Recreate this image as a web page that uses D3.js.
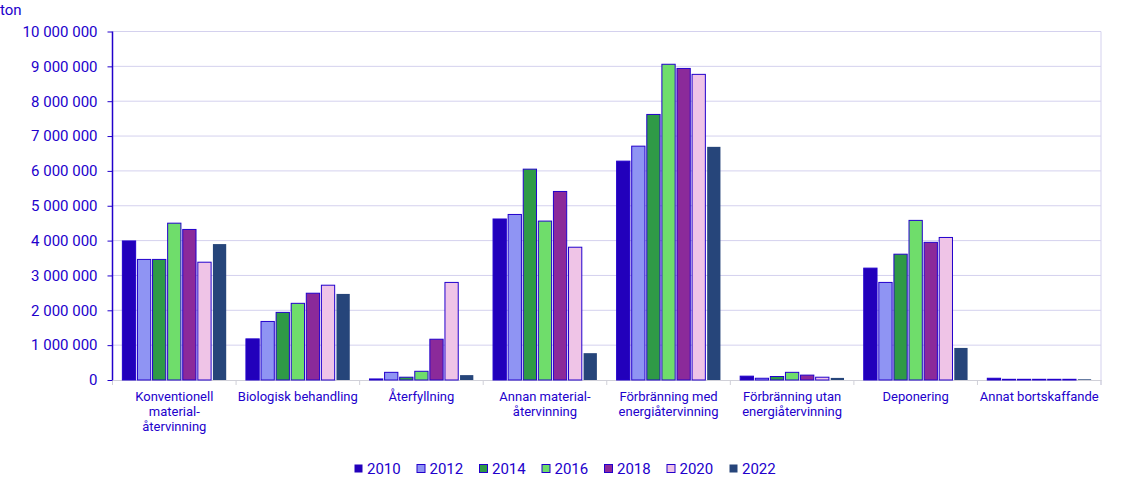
<!DOCTYPE html>
<html><head><meta charset="utf-8">
<script src="https://cdn.jsdelivr.net/npm/d3@7"></script>
<style>body{margin:0;background:#fff;font-family:Roboto,"Noto Sans",sans-serif;}</style>
</head><body><svg id="c" width="1126" height="491"></svg>
<script>
const categories = [
  ["Konventionell","material-","återvinning"],
  ["Biologisk behandling"],
  ["Återfyllning"],
  ["Annan material-","återvinning"],
  ["Förbränning med","energiåtervinning"],
  ["Förbränning utan","energiåtervinning"],
  ["Deponering"],
  ["Annat bortskaffande"]
];
const years = ["2010","2012","2014","2016","2018","2020","2022"];
const v2010 = [3990000,1180000,30000,4620000,6280000,110000,3210000,50000];
const v2012 = [3460000,1680000,220000,4750000,6710000,50000,2800000,20000];
const v2014 = [3460000,1940000,80000,6050000,7620000,100000,3610000,20000];
const v2016 = [4500000,2200000,250000,4560000,9060000,220000,4580000,20000];
const v2018 = [4320000,2490000,1170000,5410000,8940000,140000,3950000,20000];
const v2020 = [3380000,2720000,2800000,3810000,8770000,80000,4090000,20000];
const v2022 = [3900000,2470000,140000,770000,6690000,60000,920000,20000];
const series = [v2010,v2012,v2014,v2016,v2018,v2020,v2022];
const yTicks = [0,1000000,2000000,3000000,4000000,5000000,6000000,7000000,8000000,9000000,10000000];
const colors = ["#2200bb","#8f94f3","#2f9a46","#6fdd6b","#8b2a9a","#efc4e7","#26457a"];
const stroke = "#2200cc";
const textCol = "#2200cc";

const svg = d3.select("#c");
const L = 112.5, R = 1101, T = 31.5, B = 380;
const x = d3.scaleBand().domain(d3.range(categories.length)).range([L,R]).paddingInner(0).paddingOuter(0);
const y = d3.scaleLinear().domain([0,10000000]).range([B,T]);
const fmt = d => d3.format(",")(d).replace(/,/g," ");

// gridlines
svg.append("g").selectAll("line").data(yTicks.slice(1)).join("line")
  .attr("x1",L).attr("x2",R).attr("y1",d=>y(d)).attr("y2",d=>y(d))
  .attr("stroke","#d4d1ee").attr("stroke-width",1);
svg.append("line").attr("x1",R).attr("x2",R).attr("y1",T).attr("y2",B+5).attr("stroke","#d4d1ee");

// x axis
const xa = svg.append("g").attr("transform",`translate(0,${B})`)
  .call(d3.axisBottom(x).tickSize(0).tickFormat(""));
xa.select(".domain").attr("stroke","#d0d0d8");
svg.append("g").selectAll("line").data(d3.range(categories.length+1)).join("line")
  .attr("x1",i=>L+i*x.bandwidth()).attr("x2",i=>L+i*x.bandwidth())
  .attr("y1",B).attr("y2",B+5).attr("stroke","#d0d0d8");

// bars
const gw = x.bandwidth()*0.855, step = gw/years.length, bw = step*0.88;
series.forEach((s,si)=>{
  svg.append("g").selectAll("rect").data(s).join("rect")
    .attr("x",(d,i)=>x(i)+(x.bandwidth()-gw)/2+si*step+(step-bw)/2)
    .attr("width",bw)
    .attr("y",d=>y(d)).attr("height",d=>B-y(d))
    .attr("fill",colors[si])
    .attr("stroke",si===6?"none":stroke).attr("stroke-width",1);
});

// y axis
const ya = svg.append("g").attr("transform",`translate(${L},0)`)
  .call(d3.axisLeft(y).tickValues(yTicks).tickFormat(fmt).tickSize(5).tickPadding(10));
ya.select(".domain").attr("stroke",stroke).attr("stroke-width",1.5).attr("d",`M0,${T}V${B}`);
ya.selectAll(".tick line").attr("stroke",stroke);
ya.selectAll(".tick text").attr("fill",textCol).style("font-size","15px").style("font-family","Roboto");

// category labels
categories.forEach((lines,i)=>{
  const t = svg.append("text").attr("x",x(i)+x.bandwidth()/2).attr("y",401)
    .attr("text-anchor","middle").attr("fill",textCol).style("font-size","13px").style("font-family","Roboto");
  lines.forEach((ln,j)=>t.append("tspan").attr("x",x(i)+x.bandwidth()/2).attr("dy",j?15:0).text(ln));
});

// ton
svg.append("text").attr("x",0).attr("y",15).attr("fill",textCol).style("font-size","15px").style("font-family","Roboto").text("ton");

// legend
const lg = svg.append("g");
years.forEach((yr,i)=>{
  const lx = 354 + i*62.5;
  lg.append("rect").attr("x",lx+0.5).attr("y",464.5).attr("width",8).attr("height",8)
    .attr("fill",colors[i]).attr("stroke",(i===0||i===6)?"none":stroke);
  lg.append("text").attr("x",lx+13).attr("y",474).attr("fill",textCol)
    .style("font-size","15px").style("font-family","Roboto").text(yr);
});
</script></body></html>
